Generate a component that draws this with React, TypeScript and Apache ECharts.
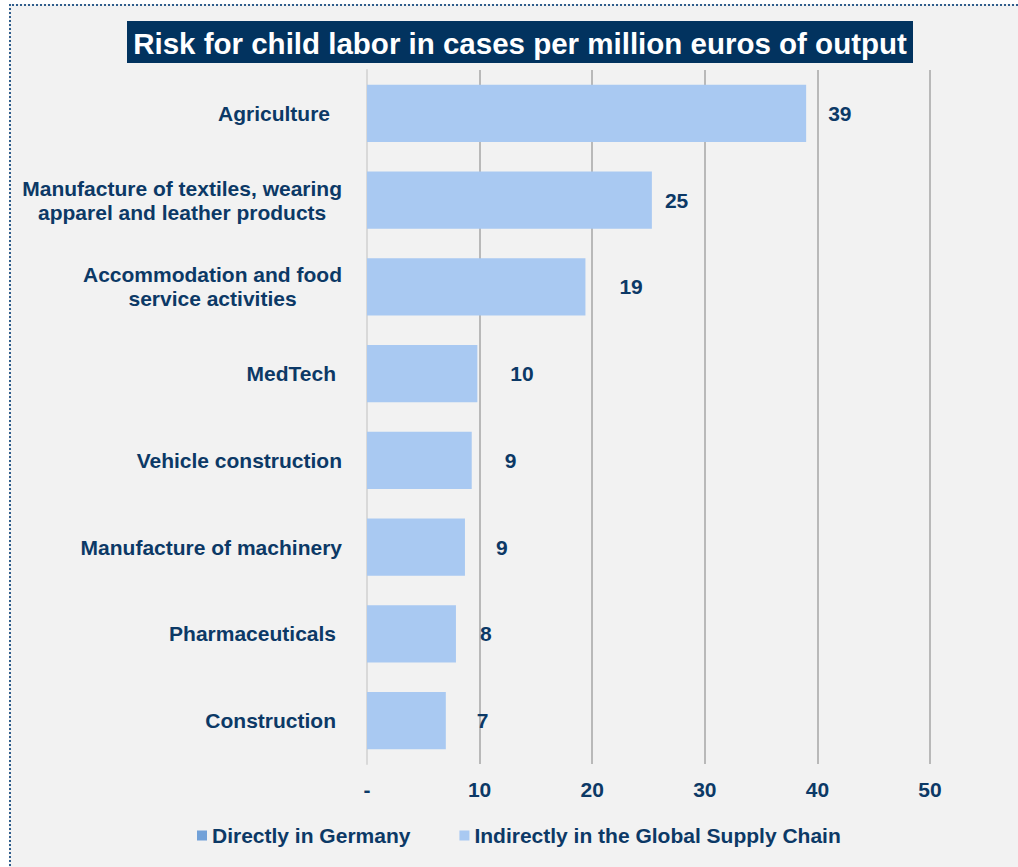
import React, { useEffect, useRef } from "react";
import * as echarts from "echarts";

const TITLE = "Risk for child labor in cases per million euros of output";
const categories = [
  "Agriculture",
  "Manufacture of textiles, wearing\napparel and leather products",
  "Accommodation and food\nservice activities",
  "MedTech",
  "Vehicle construction",
  "Manufacture of machinery",
  "Pharmaceuticals",
  "Construction",
];
const directlyInGermany = [0, 0, 0, 0, 0, 0, 0, 0];
const indirectlyGlobal = [39.0, 25.3, 19.4, 9.8, 9.3, 8.7, 7.9, 7.0];
const seriesNames = ["Directly in Germany", "Indirectly in the Global Supply Chain"];
const xTicks = [0, 10, 20, 30, 40, 50];

// label gap styles (px) between bar end and value label
const labelGaps = [22, 13, 34, 33, 33, 31, 24, 31];
// right padding styles (px) of category labels
const catPads = [12, 0, 0, 6, 0, 0, 6, 6];

const FONT = "'Liberation Sans', Arial, sans-serif";
const NAVY = "#0c3966";

export default function App() {
  const ref = useRef<HTMLDivElement>(null);
  useEffect(() => {
    if (!ref.current) return;
    const chart = echarts.init(ref.current, null, { renderer: "svg" });
    const richBase = {
      align: "center",
      fontSize: 21,
      fontWeight: "bold",
      color: NAVY,
      fontFamily: FONT,
      lineHeight: 24,
    };
    const rich: any = { c: richBase };
    catPads.forEach((p, i) => {
      rich["p" + i] = { ...richBase, padding: [0, p, 0, 0] };
    });
    chart.setOption({
      animation: false,
      backgroundColor: "transparent",
      textStyle: { fontFamily: FONT },
      graphic: [
        {
          type: "rect",
          shape: { x: 127, y: 21, width: 786, height: 42 },
          style: { fill: "#02335f" },
        },
        {
          type: "text",
          x: 520,
          y: 43,
          style: {
            text: TITLE,
            font: `bold 29.5px ${FONT}`,
            fill: "#ffffff",
            align: "center",
            verticalAlign: "middle",
            textAlign: "center",
            textVerticalAlign: "middle",
          },
        },
      ],
      legend: {
        left: 197,
        top: 825,
        padding: 0,
        icon: "rect",
        itemWidth: 10,
        itemHeight: 10,
        itemGap: 49,
        data: seriesNames,
        textStyle: { fontSize: 21, fontWeight: "bold", color: NAVY, fontFamily: FONT },
      },
      grid: { left: 367, right: 88, top: 70, bottom: 103 },
      xAxis: {
        type: "value",
        min: xTicks[0],
        max: xTicks[xTicks.length - 1],
        interval: 10,
        axisLine: { show: false },
        axisTick: { show: false },
        splitLine: {
          show: true,
          showMinLine: false,
          lineStyle: { color: "#a6a6a6", width: 1.5 },
        },
        axisLabel: {
          margin: 15,
          fontSize: 21,
          fontWeight: "bold",
          color: NAVY,
          fontFamily: FONT,
          formatter: (v: number) => (v === 0 ? "-" : String(v)),
        },
      },
      yAxis: {
        type: "category",
        inverse: true,
        data: categories,
        axisLine: { show: true, lineStyle: { color: "#d9d9d9", width: 2 } },
        axisTick: { show: false },
        axisLabel: {
          margin: 25,
          formatter: (v: string) => {
            const i = categories.indexOf(v);
            const lines = v.split("\n");
            if (lines.length === 1) return `{p${i}|${v}}`;
            return lines.map((l) => `{c|${l}}`).join("\n");
          },
          rich,
        },
      },
      series: [
        {
          name: seriesNames[0],
          type: "bar",
          stack: "total",
          barCategoryGap: "34%",
          itemStyle: { color: "#72a1d8" },
          data: directlyInGermany,
        },
        {
          name: seriesNames[1],
          type: "bar",
          stack: "total",
          barCategoryGap: "34%",
          itemStyle: { color: "#a9c9f2" },
          label: {
            show: true,
            position: "right",
            fontSize: 21,
            fontWeight: "bold",
            color: NAVY,
            fontFamily: FONT,
            formatter: (p: any) =>
              String(Math.round(directlyInGermany[p.dataIndex] + indirectlyGlobal[p.dataIndex])),
          },
          data: indirectlyGlobal.map((v, i) => ({ value: v, label: { distance: labelGaps[i] } })),
        },
      ],
    });
    return () => chart.dispose();
  }, []);

  return (
    <div style={{ position: "absolute", left: 0, top: 0, width: 1018, height: 867, background: "#ffffff", overflow: "hidden" }}>
      <div
        style={{
          position: "absolute",
          left: 9,
          top: 4,
          width: 1030,
          height: 880,
          background: "#f2f2f2",
          borderLeft: "2px dotted #2f5d8c",
          borderTop: "2px dotted #2f5d8c",
        }}
      />
      <div ref={ref} style={{ position: "absolute", left: 0, top: 0, width: 1018, height: 867 }} />
    </div>
  );
}
